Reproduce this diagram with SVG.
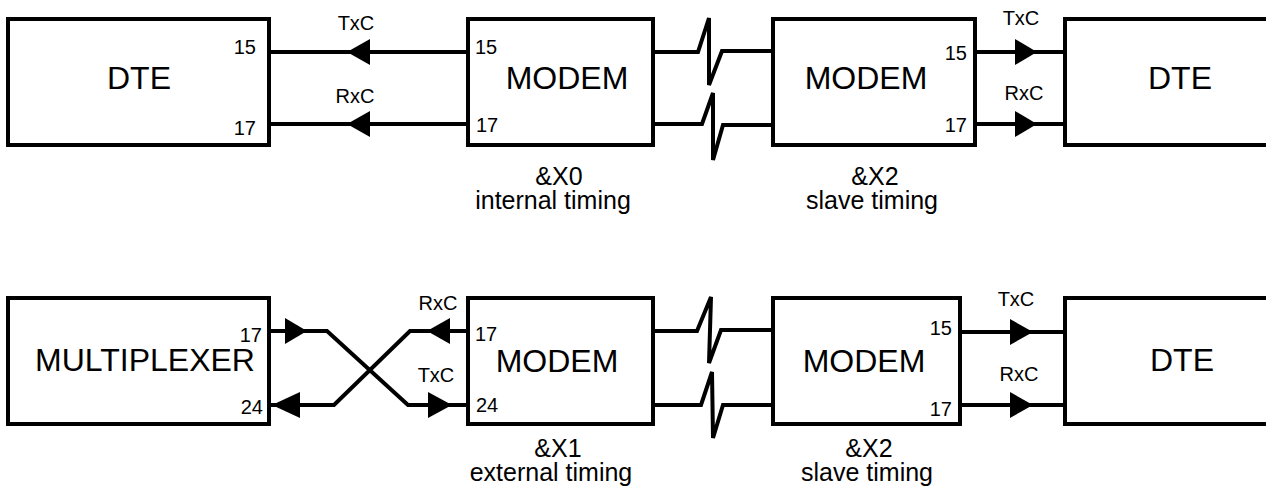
<svg xmlns="http://www.w3.org/2000/svg" width="1266" height="496" viewBox="0 0 1266 496">
<style>
.box{fill:#fff;stroke:#000;stroke-width:4}
.ln{fill:none;stroke:#000;stroke-width:4}
.ah{fill:#000;stroke:none}
text{font-family:"Liberation Sans",Arial,sans-serif;fill:#000}
.big{font-size:32px;text-anchor:middle}
.pin{font-size:20px}
.sig{font-size:20px;text-anchor:middle}
.cap{font-size:25px;text-anchor:middle}
</style>
<g id="connectors">
<line class="ln" x1="269" y1="52" x2="468" y2="52"/>
<line class="ln" x1="269" y1="124" x2="468" y2="124"/>
<polygon class="ah" points="347,52 370,39 370,65"/>
<polygon class="ah" points="347,124 370,111 370,137"/>
<polyline class="ln" points="653,52 698,52 709,18 709,85 722,51 773,51"/>
<polyline class="ln" points="653,124 702,124 713,93 713,160 723,125 773,125"/>
<line class="ln" x1="975" y1="52" x2="1065" y2="52"/>
<line class="ln" x1="975" y1="124" x2="1065" y2="124"/>
<polygon class="ah" points="1037,52 1015,39 1015,65"/>
<polygon class="ah" points="1037,124 1015,111 1015,137"/>
<polyline class="ln" points="269,331 327,331 408,405 468,405"/>
<polyline class="ln" points="269,405 334,405 410,331 468,331"/>
<polygon class="ah" points="307,331 285,318 285,344"/>
<polygon class="ah" points="272,405 300,392 300,418"/>
<polygon class="ah" points="427,331 450,318 450,344"/>
<polygon class="ah" points="452,405 428,392 428,418"/>
<polyline class="ln" points="653,331 697,331 711,297 709,363 721,330 773,330"/>
<polyline class="ln" points="653,405 701,405 712,372 713,438 723,405 773,405"/>
<line class="ln" x1="960" y1="332" x2="1065" y2="332"/>
<line class="ln" x1="960" y1="405" x2="1065" y2="405"/>
<polygon class="ah" points="1033,332 1010,319 1010,345"/>
<polygon class="ah" points="1033,405 1010,392 1010,418"/>
</g>
<g id="labels">
<text class="sig" x="356" y="30">TxC</text>
<text class="sig" x="355" y="103">RxC</text>
<text class="sig" x="1021" y="25">TxC</text>
<text class="sig" x="1024" y="100">RxC</text>
<text class="sig" x="438" y="310">RxC</text>
<text class="sig" x="436" y="382">TxC</text>
<text class="sig" x="1016" y="306">TxC</text>
<text class="sig" x="1019" y="381">RxC</text>
</g>
<g id="dte1">
<rect class="box" x="8" y="19" width="261" height="126"/>
<text class="big" x="139" y="89">DTE</text>
<text class="pin" x="256" y="54" text-anchor="end">15</text>
<text class="pin" x="256" y="135" text-anchor="end">17</text>
</g>
<g id="modem1">
<rect class="box" x="468" y="19" width="185" height="126"/>
<text class="big" x="567" y="89">MODEM</text>
<text class="pin" x="475" y="54">15</text>
<text class="pin" x="476" y="132">17</text>
<text class="cap" x="559" y="185">&amp;X0</text>
<text class="cap" x="553" y="209">internal timing</text>
</g>
<g id="modem2">
<rect class="box" x="773" y="19" width="202" height="126"/>
<text class="big" x="866" y="89">MODEM</text>
<text class="pin" x="967" y="60" text-anchor="end">15</text>
<text class="pin" x="967" y="132" text-anchor="end">17</text>
<text class="cap" x="875" y="185">&amp;X2</text>
<text class="cap" x="872" y="209">slave timing</text>
</g>
<g id="dte2">
<rect class="box" x="1065" y="19" width="220" height="126"/>
<text class="big" x="1180" y="89">DTE</text>
</g>
<g id="mux">
<rect class="box" x="8" y="298" width="261" height="126"/>
<text class="big" x="145" y="371">MULTIPLEXER</text>
<text class="pin" x="262" y="342" text-anchor="end">17</text>
<text class="pin" x="263" y="414" text-anchor="end">24</text>
</g>
<g id="modem3">
<rect class="box" x="468" y="298" width="185" height="126"/>
<text class="big" x="557" y="372">MODEM</text>
<text class="pin" x="475" y="341">17</text>
<text class="pin" x="476" y="412">24</text>
<text class="cap" x="558" y="457">&amp;X1</text>
<text class="cap" x="551" y="481">external timing</text>
</g>
<g id="modem4">
<rect class="box" x="773" y="298" width="187" height="126"/>
<text class="big" x="864" y="372">MODEM</text>
<text class="pin" x="952" y="335" text-anchor="end">15</text>
<text class="pin" x="952" y="416" text-anchor="end">17</text>
<text class="cap" x="869" y="457">&amp;X2</text>
<text class="cap" x="867" y="481">slave timing</text>
</g>
<g id="dte3">
<rect class="box" x="1065" y="298" width="220" height="126"/>
<text class="big" x="1182" y="371">DTE</text>
</g>
</svg>
